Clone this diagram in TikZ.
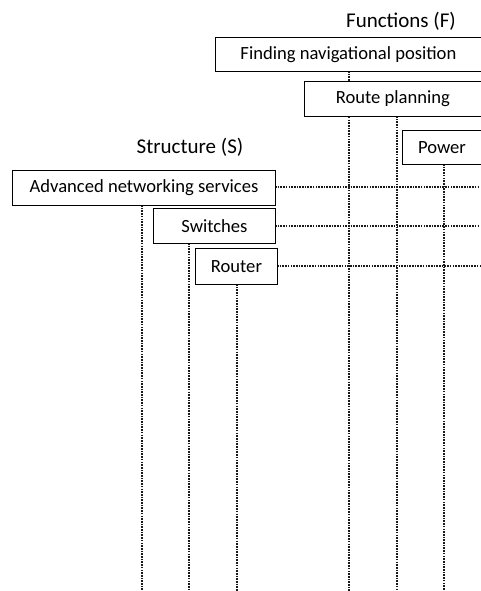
\documentclass[tikz,border=0pt]{standalone}
\usepackage{fontspec}
\setmainfont{Carlito}
\begin{document}
\begin{tikzpicture}[x=1pt,y=-1pt,
  box/.style={draw=black,line width=0.9pt,fill=white,inner sep=0pt,anchor=north west},
  link/.style={draw=black!90,line width=1.2pt,dash pattern=on 1.6pt off 1.1pt},
  heading/.style={font=\fontsize{21}{24}\selectfont},
  lbl/.style={font=\fontsize{18.6}{22}\selectfont}]
\useasboundingbox (0,0) rectangle (480,591);
% functions: vertical connectors first so the boxes sit on top
\draw[link] (349,71) -- (349,591);
\draw[link] (397,116) -- (397,591);
\draw[link] (444,164) -- (444,591);
% structure: horizontal connectors
\draw[link] (275,187) -- (480,187);
\draw[link] (275,226) -- (480,226);
\draw[link] (277,266) -- (480,266);
% structure: vertical connectors
\draw[link] (142,205) -- (142,591);
\draw[link] (189,243) -- (189,591);
\draw[link] (237,284) -- (237,591);
% headings
\node[heading] (F) at (401,21) {Functions (F)};
\node[heading] (S) at (190,147) {Structure (S)};
% function boxes
\node[box,minimum width=266pt,minimum height=34pt] (fnp) at (215,37) {};
\node[lbl] at (fnp.center) {Finding navigational position};
\node[box,minimum width=177pt,minimum height=35pt] (rp) at (304,81) {};
\node[lbl] at (rp.center) {Route planning};
\node[box,minimum width=79pt,minimum height=34pt] (pw) at (402,130) {};
\node[lbl] at (pw.center) {Power};
% structure boxes
\node[box,minimum width=263pt,minimum height=35pt] (ans) at (12,170) {};
\node[lbl] at (ans.center) {Advanced networking services};
\node[box,minimum width=122pt,minimum height=35pt] (sw) at (153,208) {};
\node[lbl] at (sw.center) {Switches};
\node[box,minimum width=82pt,minimum height=36pt] (rt) at (195,248) {};
\node[lbl] at (rt.center) {Router};
\end{tikzpicture}
\end{document}
